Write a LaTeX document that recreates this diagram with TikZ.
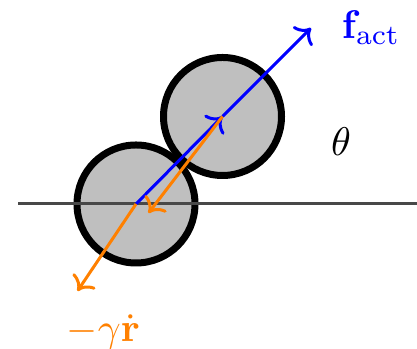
\documentclass[tikz,border=0pt]{standalone}
\usepackage{amsmath,amssymb}
\usepackage{xcolor}
\usepackage{tikz}
\usetikzlibrary{arrows.meta,positioning,calc}
\definecolor{BeadGray}  {RGB}{191, 191, 191}
\definecolor{FloorGray} {RGB}{ 72,  72,  72}
\definecolor{ForceBlue} {RGB}{  0,   0, 255}
\definecolor{DragOrange}{RGB}{255, 128,   0}

\begin{document}
\begin{tikzpicture}[x=0.25pt, y=-0.25pt,
    bead/.style={circle, draw=black, fill=BeadGray, line width=1.75pt,
                 minimum size=29.5pt, inner sep=0pt},
    force/.style={->, draw=ForceBlue, line width=0.75pt},
    drag/.style={->, draw=DragOrange, line width=0.75pt}]
      \useasboundingbox (0,0) rectangle (417,349);
      % the two beads
      \node[bead] (p1) at (136,204) {};
      \node[bead] (p2) at (222.5,116.5) {};
      % horizontal reference line
      \coordinate (wl) at (18,204);
      \coordinate (wr) at (417,204);
      \draw[FloorGray, line width=0.75pt] (wl) -- (wr);
      % active force on both beads
      \coordinate (fend) at (311,28);
      \draw[force] (p1.center) -- (p2.center);
      \draw[force] (p2.center) -- (fend);
      % friction on both beads
      \coordinate (d2) at (148.5,213);
      \coordinate (d1) at (77.5,291);
      \draw[drag] (p2.center) -- (d2);
      \draw[drag] (p1.center) -- (d1);
      % labels
      \node[text=ForceBlue, anchor=base west, inner sep=0pt]
        (flabel) at (341,39) {$\mathbf{f}_{\mathrm{act}}$};
      \node[inner sep=0pt] (theta) at (341,141.5) {$\theta$};
      \node[text=DragOrange, anchor=base west, inner sep=0pt]
        (glabel) at (66,342) {$-\gamma\dot{\mathbf{r}}$};
    \end{tikzpicture}
\end{document}
